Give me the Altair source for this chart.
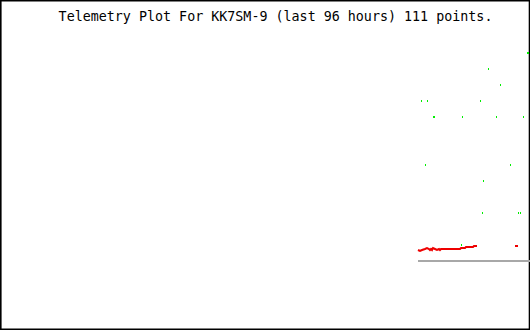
import altair as alt
import pandas as pd

# ---- data (hours relative to now, telemetry level units) ----
title_text = "Telemetry Plot For KK7SM-9 (last 96 hours) 111 points."

green_hours = [-0.4, -8.3, -5.9, -21.7, -20.5, -9.9, -19.2, -13.5, -6.7, -1.3,
               -20.9, -3.9, -9.3, -9.5, -2.3, -1.9, -13.7]
green_level = [13, 12, 11, 10, 10, 10, 9, 9, 9, 9,
               6, 6, 5, 3, 3, 3, 1]
green_big = [True, False, False, False, False, False, True, False, False, False,
             False, False, False, False, False, False, False]

red_hours = [-22.4, -22.0, -21.6, -21.0, -20.6, -20.2, -20.0, -19.8, -19.6, -19.4,
             -19.0, -18.6, -18.2, -18.0, -17.8, -14.0, -13.8, -13.0, -12.8, -11.4,
             -11.2, -10.6, -3.0, -2.4]
red_level = [0.6875, 0.625, 0.6875, 0.75, 0.8125, 0.75, 0.6875, 0.75, 0.6875, 0.8125,
             0.75, 0.6875, 0.75, 0.6875, 0.75, 0.75, 0.8125, 0.8125, 0.875, 0.875,
             0.9375, 0.9375, 0.9375, 0.9375]
red_segment = [1] * 22 + [2, 2]

base_start = [-22.4]
base_end = [0.0]
base_level = [0.0]

GREEN = "#00ee00"
RED = "#ee0000"
GRAY = "#a8a8a8"

W, H = 530, 330

xs = alt.Scale(domain=[-106, 0], nice=False, zero=False)
ys = alt.Scale(domain=[-4.3125, 16.3125], nice=False, zero=False)

green_df = pd.DataFrame({"t": green_hours, "v": green_level, "big": green_big})
red_df = pd.DataFrame({"t": red_hours, "v": red_level, "seg": red_segment})
base_df = pd.DataFrame({"t": base_start, "t2": base_end, "v": base_level})

border = alt.Chart(alt.Data(values=[{}])).mark_rect(
    fill=None, fillOpacity=0, stroke="black", strokeWidth=1.6
).encode(
    x=alt.value(0.8), x2=alt.value(529.5), y=alt.value(0.6), y2=alt.value(329.3)
)

baseline = alt.Chart(base_df).mark_rule(color=GRAY, strokeWidth=2).encode(
    x=alt.X("t:Q", scale=xs, axis=None),
    x2="t2:Q",
    y=alt.Y("v:Q", scale=ys, axis=None),
)

red_line = alt.Chart(red_df).mark_line(color=RED, strokeWidth=2).encode(
    x=alt.X("t:Q", scale=xs, axis=None),
    y=alt.Y("v:Q", scale=ys, axis=None),
    detail="seg:N",
    order="t:Q",
)

green_small = alt.Chart(green_df).transform_filter("!datum.big").mark_rect(
    width=1, height=2, color=GREEN
).encode(
    x=alt.X("t:Q", scale=xs, axis=None),
    y=alt.Y("v:Q", scale=ys, axis=None),
)

green_large = alt.Chart(green_df).transform_filter("datum.big").mark_rect(
    width=2, height=2, color=GREEN
).encode(
    x=alt.X("t:Q", scale=xs, axis=None),
    y=alt.Y("v:Q", scale=ys, axis=None),
)

one = alt.Data(values=[{"label": title_text}])

title = alt.Chart(one).mark_text(
    font="DejaVu Sans Mono", fontSize=13.35, color="black",
    align="center", baseline="alphabetic"
).encode(
    x=alt.value(275.5), y=alt.value(21), text="label:N"
)

chart = alt.layer(border, baseline, red_line, green_small, green_large, title).properties(
    width=W, height=H,
    autosize=alt.AutoSizeParams(type="none"),
    padding=0,
    background="white",
).configure_view(stroke=None)

chart.save("out.html", embed_options={"renderer": "svg", "actions": False})
